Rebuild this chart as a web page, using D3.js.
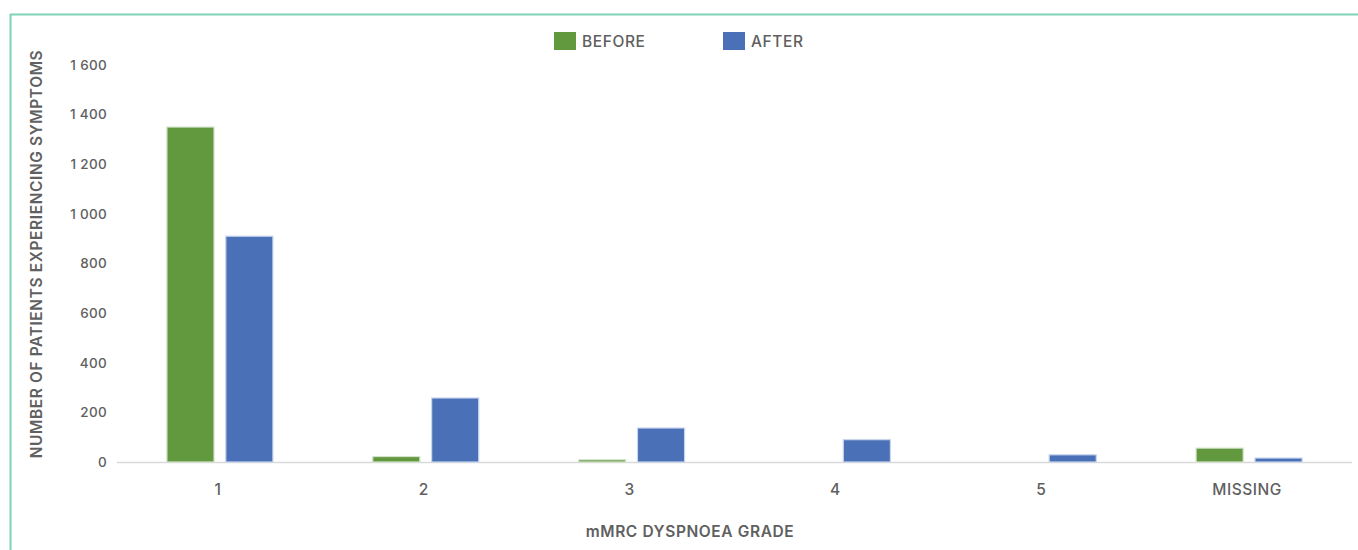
<!DOCTYPE html>
<html>
<head>
<meta charset="utf-8">
<script src="https://cdn.jsdelivr.net/npm/d3@7"></script>
<style>
  html, body { margin: 0; padding: 0; background: #fff; }
  svg { display: block; font-family: Inter, "Noto Sans", sans-serif; }
</style>
</head>
<body>
<svg id="chart" width="1358" height="550"></svg>
<script>
// mMRC dyspnoea grade counts, before and after
const categories = ["1", "2", "3", "4", "5", "MISSING"];
const seriesNames = ["BEFORE", "AFTER"];
const beforeValues = [1350, 22, 9, 0, 0, 56];
const afterValues = [910, 258, 137, 90, 29, 16];
const yTicks = [0, 200, 400, 600, 800, 1000, 1200, 1400, 1600];
const colors = ["#62993f", "#4a71b7"];

const svg = d3.select("#chart");
const W = 1358, H = 550;
const plotLeft = 117, plotRight = 1352, plotTop = 65, plotBottom = 462;
const textColor = "#606060";

// frame lines (top and left)
svg.append("line").attr("x1", 10).attr("x2", W).attr("y1", 14.5).attr("y2", 14.5)
  .attr("stroke", "#7fd1b6").attr("stroke-width", 2);
svg.append("line").attr("x1", 10.5).attr("x2", 10.5).attr("y1", 14).attr("y2", H)
  .attr("stroke", "#7fd1b6").attr("stroke-width", 2);

const x = d3.scaleBand().domain(categories).range([plotLeft, plotRight]);
const half = 53;
const xs = d3.scaleBand().domain(seriesNames)
  .range([x.bandwidth() / 2 - half, x.bandwidth() / 2 + half]).paddingInner(0.2);
const y = d3.scaleLinear().domain([0, 1600]).range([plotBottom, plotTop]);

const fmt = v => d3.format(",")(v).replace(/,/g, " ");

// y axis labels
const yAxis = svg.append("g").attr("transform", "translate(107,0)")
  .call(d3.axisLeft(y).tickValues(yTicks).tickSize(0).tickPadding(0).tickFormat(fmt));
yAxis.select(".domain").remove();
yAxis.selectAll("text").attr("fill", textColor).attr("font-size", 13.5).attr("font-weight", 500)
  .attr("font-family", "Inter, sans-serif").attr("letter-spacing", 0.3);

// baseline
svg.append("line").attr("x1", plotLeft).attr("x2", plotRight).attr("y1", plotBottom + 0.5).attr("y2", plotBottom + 0.5)
  .attr("stroke", "#d9d9d9").attr("stroke-width", 1.5);

// bars
const rows = categories.map((c, i) => ({ cat: c, vals: [beforeValues[i], afterValues[i]] }));
const groups = svg.append("g").selectAll("g").data(rows).join("g")
  .attr("transform", d => `translate(${x(d.cat)},0)`);
groups.selectAll("rect").data(d => d.vals.map((v, j) => ({ key: seriesNames[j], v, j })))
  .join("rect")
  .attr("x", d => xs(d.key))
  .attr("width", xs.bandwidth())
  .attr("y", d => y(d.v))
  .attr("height", d => Math.max(0, y(0) - y(d.v)))
  .attr("fill", d => colors[d.j])
  .attr("stroke", d => d.j === 0 ? "#d4e4cc" : "#c9d5ec")
  .attr("stroke-width", 1.2);

// x axis labels
const xAxis = svg.append("g").attr("transform", `translate(0,${plotBottom})`)
  .call(d3.axisBottom(x).tickSize(0).tickPadding(22));
xAxis.select(".domain").remove();
xAxis.selectAll("text").attr("fill", textColor).attr("font-size", 15.5).attr("font-weight", 500)
  .attr("font-family", "Inter, sans-serif").attr("letter-spacing", 0.5).attr("dx", -2);

// axis titles
svg.append("text").attr("x", 690).attr("y", 537).attr("text-anchor", "middle")
  .attr("fill", textColor).attr("font-size", 15.5).attr("font-weight", 600).attr("letter-spacing", 0.6)
  .text("mMRC DYSPNOEA GRADE");
svg.append("text").attr("transform", "translate(42,254) rotate(-90)").attr("text-anchor", "middle")
  .attr("fill", textColor).attr("font-size", 15.5).attr("font-weight", 600).attr("letter-spacing", 0.6)
  .text("NUMBER OF PATIENTS EXPERIENCING SYMPTOMS");

// legend
const legendX = [554, 723];
const legend = svg.append("g").selectAll("g").data(seriesNames).join("g")
  .attr("transform", (d, i) => `translate(${legendX[i]},32)`);
legend.append("rect").attr("width", 22).attr("height", 18).attr("fill", (d, i) => colors[i]);
legend.append("text").attr("x", 28).attr("y", 15).attr("fill", textColor)
  .attr("font-size", 15.5).attr("font-weight", 500).attr("letter-spacing", 0.6).text(d => d);
</script>
</body>
</html>
